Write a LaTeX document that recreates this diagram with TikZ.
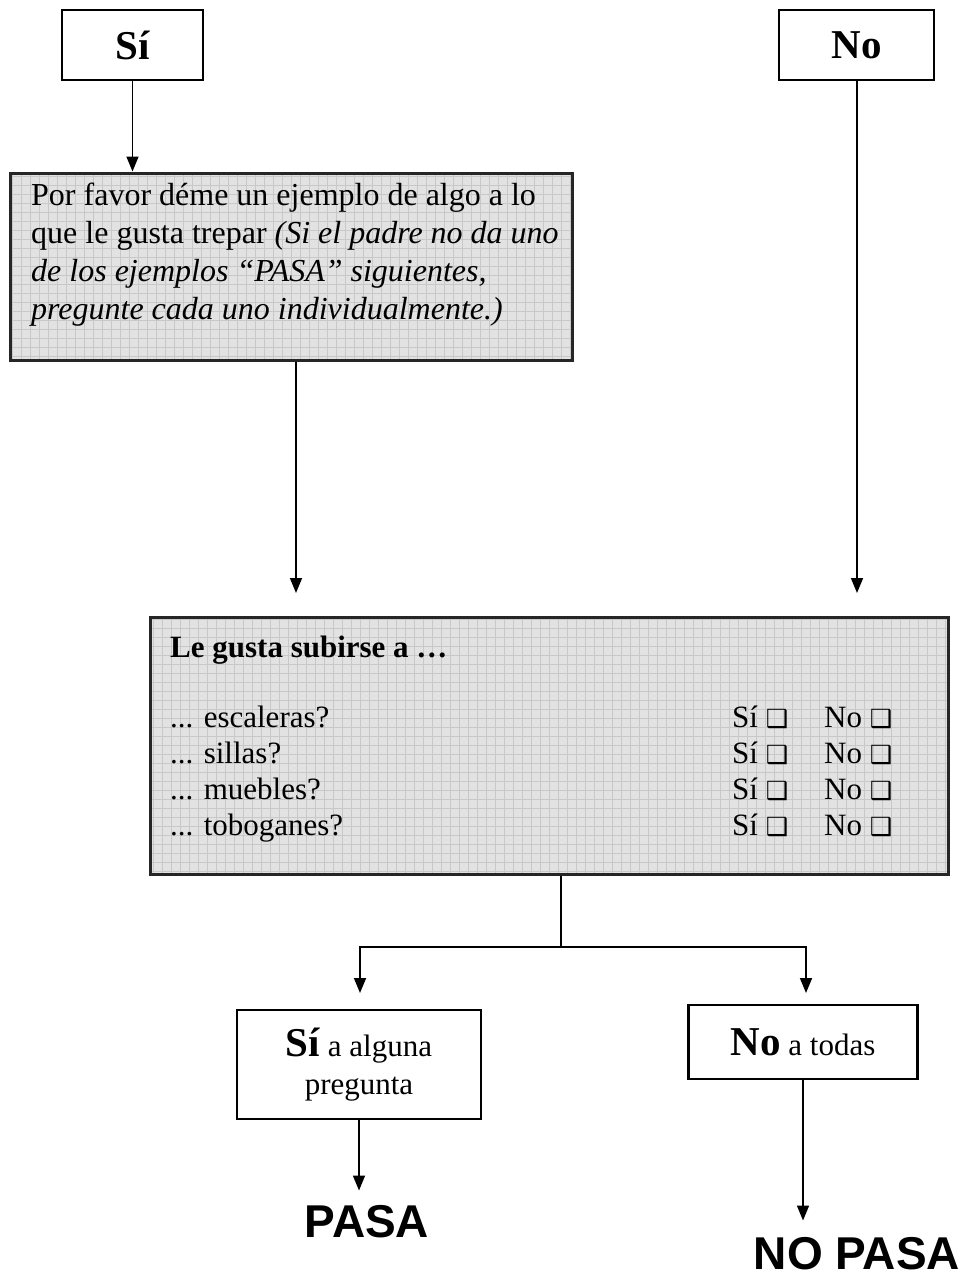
\documentclass[tikz,border=0pt]{standalone}
\usepackage{fontspec}
\setmainfont{Liberation Serif}
\setsansfont{Liberation Sans}
\newfontfamily\dingfont{DejaVu Sans}
\usetikzlibrary{arrows.meta}
\definecolor{boxgrey}{RGB}{226,226,226}
\definecolor{gridgrey}{RGB}{200,200,200}
\newcommand{\bodysize}{\fontsize{31}{38}\selectfont}
\newcommand{\bigsize}{\fontsize{41}{48}\selectfont}
\newcommand{\passize}{\fontsize{46}{54}\selectfont}
\newcommand{\chk}{{\dingfont\fontsize{25}{26}\selectfont ❑}}
\tikzset{
  >={Triangle[length=15pt,width=12pt]},
  answer/.style={shape=rectangle,draw=black,line width=2.5pt,align=center,inner sep=0pt},
  greybox/.style={shape=rectangle,draw=black!85,line width=3pt,fill=boxgrey,inner sep=0pt,
    path picture={\draw[gridgrey,line width=0.6pt,step=9pt] (path picture bounding box.south west) grid (path picture bounding box.north east);}},
  conn/.style={line width=1.6pt}
}

\begin{document}
\begin{tikzpicture}[x=1pt,y=-1pt]
        \useasboundingbox (0,0) rectangle (965,1280);

        \node[answer,minimum width=141pt,minimum height=70pt,font=\bigsize\bfseries] (si) at (132.5,45) {Sí};
        \node[answer,minimum width=155pt,minimum height=70pt,font=\bigsize\bfseries] (no) at (856.5,45) {No};

        \node[greybox,minimum width=562pt,minimum height=187pt] (ejemplo) at (291,266.5) {};
        \node[anchor=north west,inner sep=0pt,align=left,font=\fontsize{32}{38}\selectfont] (ejtxt) at (31,183)
            {Por favor déme un ejemplo de algo a lo\\
             que le gusta trepar \textit{(Si el padre no da uno}\\
             \textit{de los ejemplos “PASA” siguientes,}\\
             \textit{pregunte cada uno individualmente.)}};

        \node[greybox,minimum width=798pt,minimum height=257pt] (subir) at (549,745.5) {};
        \node[anchor=base west,inner sep=0pt,font=\bodysize\bfseries] (titulo) at (170,657) {Le gusta subirse a …};
        \foreach \obj [count=\i] in {escaleras,sillas,muebles,toboganes} {
            \node[anchor=base west,inner sep=0pt,font=\bodysize] (row\i) at (170,691+36*\i) {... \obj?};
            \node[anchor=base west,inner sep=0pt,font=\bodysize] (si\i) at (732,691+36*\i) {Sí \chk};
            \node[anchor=base west,inner sep=0pt,font=\bodysize] (no\i) at (824,691+36*\i) {No \chk};
        }

        \node[answer,minimum width=244pt,minimum height=109pt,font=\bodysize] (alguna) at (359,1064.5)
            {{\bigsize\bfseries Sí} a alguna\\ pregunta};
        \node[answer,minimum width=229pt,minimum height=74pt,font=\bodysize] (todas) at (803,1042)
            {{\bigsize\bfseries No} a todas};

        \node[inner sep=0pt,font=\passize\sffamily\bfseries] (pasa) at (367,1222) {PASA};
        \node[inner sep=0pt,font=\passize\sffamily\bfseries] (nopasa) at (857,1254) {NO PASA};

        \coordinate (tipej) at (296,593);
        \coordinate (tipno) at (857,593);
        \coordinate (split) at (561,947);
        \coordinate (tipl) at (360,993);
        \coordinate (tipr) at (806,993);

        \path [->,conn](si) edge (si |- ejemplo.north);
        \path [->,conn](ejemplo.south -| tipej) edge (tipej);
        \path [->,conn](no.south -| tipno) edge (tipno);
        \draw [conn](subir.south -| split) -- (split);
        \draw [->,conn](split) -| (tipl);
        \draw [->,conn](split) -| (tipr);
        \path [->,conn,shorten >=15pt](alguna) edge (alguna |- pasa.north);
        \path [->,conn,shorten >=17pt](todas) edge (todas |- nopasa.north);
    \end{tikzpicture}
\end{document}
